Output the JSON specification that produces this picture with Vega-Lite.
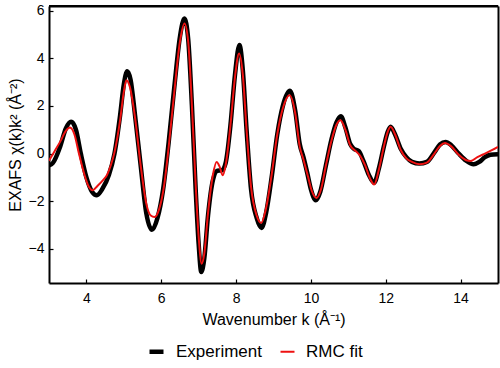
{
  "$schema": "https://vega.github.io/schema/vega-lite/v6.json",
  "width": 449,
  "height": 277,
  "autosize": {"type": "none"},
  "padding": {"left": 49, "top": 6, "right": 2, "bottom": 85},
  "config": {
    "view": {"stroke": null},
    "font": "Liberation Sans",
    "axis": {
      "labelFont": "Liberation Sans", "titleFont": "Liberation Sans",
      "labelFontSize": 14, "titleFontSize": 16, "titleFontWeight": "normal",
      "labelColor": "black", "titleColor": "black",
      "domainColor": "black", "domainWidth": 2,
      "tickColor": "black", "tickWidth": 1.2, "tickSize": -4,
      "grid": false
    },
    "legend": {"labelFont": "Liberation Sans", "labelFontSize": 17, "labelColor": "black"}
  },
  "datasets": {
    "exp": [
      {"k":3.00,"v":-0.50},{"k":3.10,"v":-0.40},{"k":3.30,"v":0.30},{"k":3.45,"v":1.05},{"k":3.59,"v":1.33},{"k":3.72,"v":1.0},{"k":3.85,"v":0.0},{"k":4.00,"v":-1.0},{"k":4.15,"v":-1.6},{"k":4.28,"v":-1.75},{"k":4.42,"v":-1.5},{"k":4.60,"v":-0.9},{"k":4.75,"v":0.0},{"k":4.90,"v":1.6},{"k":5.00,"v":2.9},{"k":5.09,"v":3.45},{"k":5.18,"v":3.1},{"k":5.30,"v":1.6},{"k":5.45,"v":-0.5},{"k":5.60,"v":-2.5},{"k":5.75,"v":-3.2},{"k":5.90,"v":-2.7},{"k":6.05,"v":-1.5},{"k":6.20,"v":0.5},{"k":6.35,"v":2.8},{"k":6.50,"v":4.9},{"k":6.62,"v":5.67},{"k":6.72,"v":4.8},{"k":6.82,"v":2.0},{"k":6.92,"v":-1.5},{"k":7.00,"v":-3.8},{"k":7.07,"v":-4.97},{"k":7.15,"v":-4.4},{"k":7.25,"v":-2.6},{"k":7.38,"v":-1.12},{"k":7.50,"v":-0.72},{"k":7.62,"v":-0.70},{"k":7.72,"v":-0.40},{"k":7.85,"v":1.2},{"k":7.97,"v":3.3},{"k":8.09,"v":4.55},{"k":8.18,"v":3.5},{"k":8.28,"v":1.0},{"k":8.40,"v":-1.5},{"k":8.55,"v":-2.7},{"k":8.68,"v":-3.12},{"k":8.80,"v":-2.5},{"k":8.95,"v":-1.0},{"k":9.10,"v":0.8},{"k":9.25,"v":2.0},{"k":9.44,"v":2.63},{"k":9.58,"v":1.8},{"k":9.70,"v":0.4},{"k":9.80,"v":-0.15},{"k":9.90,"v":-0.8},{"k":10.00,"v":-1.5},{"k":10.13,"v":-1.96},{"k":10.25,"v":-1.6},{"k":10.40,"v":-0.5},{"k":10.55,"v":0.6},{"k":10.68,"v":1.3},{"k":10.80,"v":1.57},{"k":10.92,"v":1.1},{"k":11.05,"v":0.4},{"k":11.15,"v":0.2},{"k":11.28,"v":0.1},{"k":11.40,"v":-0.3},{"k":11.55,"v":-0.9},{"k":11.69,"v":-1.22},{"k":11.82,"v":-0.6},{"k":11.95,"v":0.3},{"k":12.05,"v":0.9},{"k":12.13,"v":1.12},{"k":12.25,"v":0.8},{"k":12.40,"v":0.2},{"k":12.55,"v":-0.15},{"k":12.70,"v":-0.35},{"k":12.90,"v":-0.42},{"k":13.10,"v":-0.35},{"k":13.30,"v":0.05},{"k":13.45,"v":0.38},{"k":13.60,"v":0.49},{"k":13.75,"v":0.35},{"k":13.95,"v":0.0},{"k":14.15,"v":-0.3},{"k":14.35,"v":-0.45},{"k":14.50,"v":-0.35},{"k":14.65,"v":-0.15},{"k":14.80,"v":-0.05},{"k":15.00,"v":-0.03}
    ],
    "fit": [
      {"k":3.00,"v":-0.30},{"k":3.15,"v":0.1},{"k":3.30,"v":0.5},{"k":3.45,"v":0.95},{"k":3.56,"v":1.09},{"k":3.68,"v":0.8},{"k":3.80,"v":0.0},{"k":3.95,"v":-0.9},{"k":4.05,"v":-1.35},{"k":4.17,"v":-1.54},{"k":4.30,"v":-1.35},{"k":4.45,"v":-1.1},{"k":4.55,"v":-0.9},{"k":4.65,"v":-0.5},{"k":4.75,"v":0.05},{"k":4.90,"v":1.4},{"k":5.00,"v":2.6},{"k":5.07,"v":3.08},{"k":5.16,"v":2.8},{"k":5.30,"v":1.5},{"k":5.45,"v":-0.5},{"k":5.60,"v":-2.1},{"k":5.72,"v":-2.6},{"k":5.82,"v":-2.66},{"k":5.95,"v":-2.3},{"k":6.08,"v":-1.3},{"k":6.20,"v":0.3},{"k":6.35,"v":2.6},{"k":6.50,"v":4.7},{"k":6.62,"v":5.46},{"k":6.72,"v":4.7},{"k":6.82,"v":2.0},{"k":6.92,"v":-1.3},{"k":7.00,"v":-3.5},{"k":7.08,"v":-4.62},{"k":7.15,"v":-4.2},{"k":7.25,"v":-2.5},{"k":7.38,"v":-0.9},{"k":7.48,"v":-0.35},{"k":7.56,"v":-0.55},{"k":7.64,"v":-0.91},{"k":7.72,"v":-0.5},{"k":7.85,"v":1.2},{"k":7.97,"v":3.2},{"k":8.08,"v":4.2},{"k":8.18,"v":3.3},{"k":8.28,"v":1.0},{"k":8.40,"v":-1.4},{"k":8.55,"v":-2.6},{"k":8.67,"v":-2.91},{"k":8.80,"v":-2.3},{"k":8.95,"v":-0.9},{"k":9.10,"v":0.8},{"k":9.25,"v":1.9},{"k":9.43,"v":2.45},{"k":9.58,"v":1.7},{"k":9.70,"v":0.3},{"k":9.80,"v":-0.25},{"k":9.92,"v":-0.95},{"k":10.02,"v":-1.55},{"k":10.15,"v":-1.86},{"k":10.27,"v":-1.5},{"k":10.40,"v":-0.5},{"k":10.55,"v":0.55},{"k":10.68,"v":1.2},{"k":10.79,"v":1.40},{"k":10.92,"v":1.0},{"k":11.05,"v":0.35},{"k":11.20,"v":0.1},{"k":11.32,"v":-0.1},{"k":11.45,"v":-0.5},{"k":11.58,"v":-1.05},{"k":11.69,"v":-1.3},{"k":11.82,"v":-0.65},{"k":11.95,"v":0.3},{"k":12.05,"v":0.9},{"k":12.13,"v":1.12},{"k":12.25,"v":0.8},{"k":12.40,"v":0.15},{"k":12.55,"v":-0.2},{"k":12.70,"v":-0.35},{"k":12.90,"v":-0.45},{"k":13.10,"v":-0.38},{"k":13.30,"v":0.0},{"k":13.45,"v":0.32},{"k":13.58,"v":0.44},{"k":13.75,"v":0.3},{"k":13.95,"v":-0.05},{"k":14.15,"v":-0.28},{"k":14.27,"v":-0.31},{"k":14.45,"v":-0.15},{"k":14.65,"v":0.0},{"k":14.85,"v":0.15},{"k":15.00,"v":0.28}
    ],
    "frame": [{"edge": "top"}]
  },
  "layer": [
    {"data": {"name": "exp"}, "transform": [{"calculate": "'Experiment'", "as": "series"}],
     "mark": {"type": "line", "interpolate": "monotone", "clip": true},
     "encoding": {
       "x": {"field": "k", "type": "quantitative",
         "scale": {"domain": [3, 15], "nice": false},
         "axis": {"orient": "bottom", "values": [4,6,8,10,12,14], "title": "Wavenumber k (Å⁻¹)", "labelPadding": 12, "titlePadding": 6}},
       "y": {"field": "v", "type": "quantitative",
         "scale": {"domain": [-5.43, 6.19], "nice": false},
         "axis": {"orient": "left", "values": [-4,-2,0,2,4,6], "title": "EXAFS χ(k)k² (Å⁻²)", "labelPadding": 9, "titlePadding": 5}},
       "color": {"field": "series", "type": "nominal",
         "scale": {"domain": ["Experiment", "RMC fit"], "range": ["black", "#ee1111"]},
         "legend": {"title": null, "orient": "none", "direction": "horizontal", "legendX": 98, "legendY": 336,
           "symbolType": "stroke", "symbolSize": 196, "columnPadding": 14, "labelOffset": 10}},
       "strokeWidth": {"field": "series", "type": "nominal",
         "scale": {"domain": ["Experiment", "RMC fit"], "range": [4.5, 2]},
         "legend": {"title": null, "orient": "none", "direction": "horizontal", "legendX": 98, "legendY": 336,
           "symbolType": "stroke", "symbolSize": 196, "columnPadding": 14, "labelOffset": 10}}
     }},
    {"data": {"name": "fit"}, "transform": [{"calculate": "'RMC fit'", "as": "series"}],
     "mark": {"type": "line", "interpolate": "monotone", "clip": true},
     "encoding": {
       "x": {"field": "k", "type": "quantitative",
         "axis": {"orient": "top", "labels": false, "ticks": false, "title": null}},
       "y": {"field": "v", "type": "quantitative",
         "axis": {"orient": "right", "labels": false, "ticks": false, "title": null}},
       "color": {"field": "series", "type": "nominal"},
       "strokeWidth": {"field": "series", "type": "nominal"}
     }},
    {"data": {"name": "frame"},
     "mark": {"type": "rule", "color": "black", "strokeWidth": 2, "clip": false},
     "encoding": {
       "y": {"datum": 6.19, "type": "quantitative", "axis": null}
     }}
  ],
  "resolve": {"axis": {"x": "independent", "y": "independent"}}
}
